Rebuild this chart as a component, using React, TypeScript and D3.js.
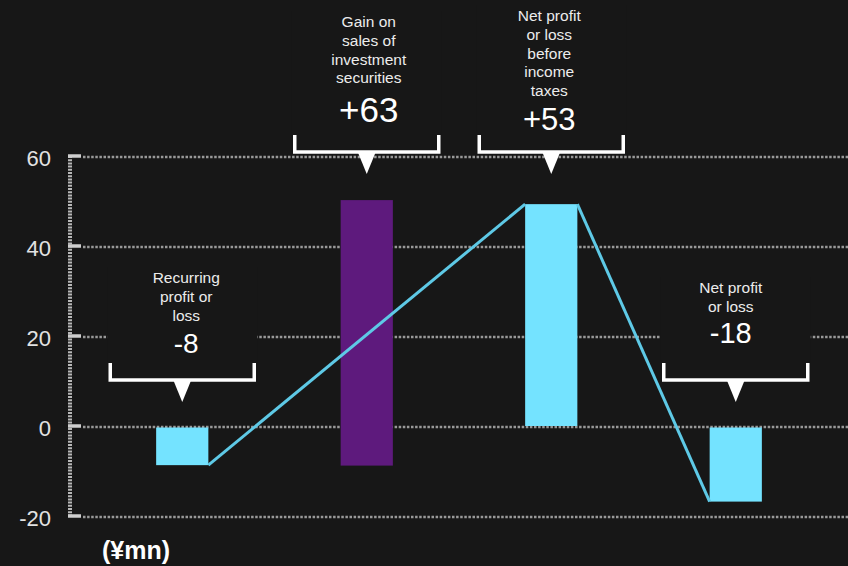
import React from "react";
import * as d3 from "d3";

// ---- data ----
const categories = [
  "Recurring profit or loss",
  "Gain on sales of investment securities",
  "Net profit or loss before income taxes",
  "Net profit or loss",
];
const labelLines = [
  ["Recurring", "profit or", "loss"],
  ["Gain on", "sales of", "investment", "securities"],
  ["Net profit", "or loss", "before", "income", "taxes"],
  ["Net profit", "or loss"],
];
const valueLabels = ["-8", "+63", "+53", "-18"];
const barStart = [0, -8.8, 0, 0];
const barEnd = [-8.7, 50.2, 49.3, -16.8];
const barKinds = ["main", "gain", "main", "main"];
const yTicks = [-20, 0, 20, 40, 60];
const unitLabel = "(¥mn)";

// ---- layout / style ----
const W = 848;
const H = 566;
const BG = "#171717";
const CYAN = "#74e3ff";
const PURPLE = "#5e1a7d";
const LINE = "#5ec9e6";
// per-annotation layout: first label baseline, value baseline, bracket y, value font size, text dx
const annLayout = [
  { first: 283, value: 353, bracket: 380, fs: 28, dx: 4 },
  { first: 27, value: 122, bracket: 152, fs: 35, dx: 2 },
  { first: 21, value: 130, bracket: 152, fs: 31, dx: -2 },
  { first: 293, value: 343, bracket: 380, fs: 29, dx: -5 },
];

export default function App() {
  const y = d3.scaleLinear().domain([-20, 60]).range([516, 156]);
  const x = d3
    .scaleBand<string>()
    .domain(categories)
    .range([90, 828])
    .paddingInner(0.717)
    .paddingOuter(0.3585);
  const bw = x.bandwidth();

  const xs = categories.map((c) => x(c) as number);
  const connector1 = d3.line()([
    [xs[0] + bw, y(barEnd[0])],
    [xs[2], y(barEnd[2])],
  ]);
  const connector2 = d3.line()([
    [xs[2] + bw, y(barEnd[2])],
    [xs[3], y(barEnd[3])],
  ]);

  const font = "'Liberation Sans', Arial, Helvetica, sans-serif";
  const half = 72;

  return (
    <div style={{ position: "fixed", left: 0, top: 0, width: W, height: H, background: BG }}>
      <svg width={W} height={H} style={{ display: "block", fontFamily: font }}>
        <rect x={0} y={0} width={W} height={H} fill={BG} />
        {/* gridlines */}
        {yTicks.map((t) => (
          <line
            key={"g" + t}
            x1={83}
            x2={W}
            y1={y(t) + 1}
            y2={y(t) + 1}
            stroke="#999"
            strokeWidth={2.5}
            strokeDasharray="2.5 1.6"
          />
        ))}
        {/* axis */}
        <line x1={70} x2={70} y1={y(60)} y2={y(-20)} stroke="#b8b8b8" strokeWidth={4} strokeDasharray="2 1.2" />
        {yTicks.map((t) => (
          <g key={"t" + t}>
            <line x1={68} x2={81} y1={y(t)} y2={y(t)} stroke="#cfcfcf" strokeWidth={3.5} />
            <text x={51} y={y(t) + 9.5} textAnchor="end" fontSize={22} fill="#e2e2e2">
              {t}
            </text>
          </g>
        ))}
        {/* bars */}
        {categories.map((c, i) => {
          const a = y(barStart[i]);
          const b = y(barEnd[i]);
          const top = Math.min(a, b) + (barStart[i] === 0 && barEnd[i] < 0 ? 1.5 : 0);
          const h = Math.abs(b - a) - (barStart[i] === 0 && barEnd[i] < 0 ? 1.5 : 0);
          return (
            <rect
              key={"b" + c}
              x={xs[i]}
              y={top}
              width={bw}
              height={h}
              fill={barKinds[i] === "gain" ? PURPLE : CYAN}
            />
          );
        })}
        {/* connector */}
        <path d={connector1 || ""} stroke={LINE} strokeWidth={3} fill="none" />
        <path d={connector2 || ""} stroke={LINE} strokeWidth={3} fill="none" />
        {/* annotations */}
        {categories.map((c, i) => {
          const L = annLayout[i];
          const cx = (xs[i] + bw / 2);
          const tx = cx + L.dx;
          const lines = labelLines[i];
          return (
            <g key={"a" + c}>
              <rect x={cx - 75} y={L.first - 16} width={150} height={L.bracket - L.first + 16} fill={BG} />
              {lines.map((ln, k) => (
                <text
                  key={k}
                  x={tx}
                  y={L.first + k * 18.75}
                  textAnchor="middle"
                  fontSize={15.5}
                  fill="#ececec"
                >
                  {ln}
                </text>
              ))}
              <text x={tx} y={L.value} textAnchor="middle" fontSize={L.fs} fill="#ffffff">
                {valueLabels[i]}
              </text>
              <path
                d={`M${cx - half},${L.bracket - 17}V${L.bracket}H${cx + half}V${L.bracket - 17}`}
                stroke="#ffffff"
                strokeWidth={3.5}
                fill="none"
              />
              <path
                d={`M${cx - 9},${L.bracket}L${cx + 9},${L.bracket}L${cx},${L.bracket + 22}Z`}
                fill="#ffffff"
              />
            </g>
          );
        })}
        <text x={102} y={559} fontSize={25} fontWeight="bold" fill="#ffffff">
          {unitLabel}
        </text>
      </svg>
    </div>
  );
}
